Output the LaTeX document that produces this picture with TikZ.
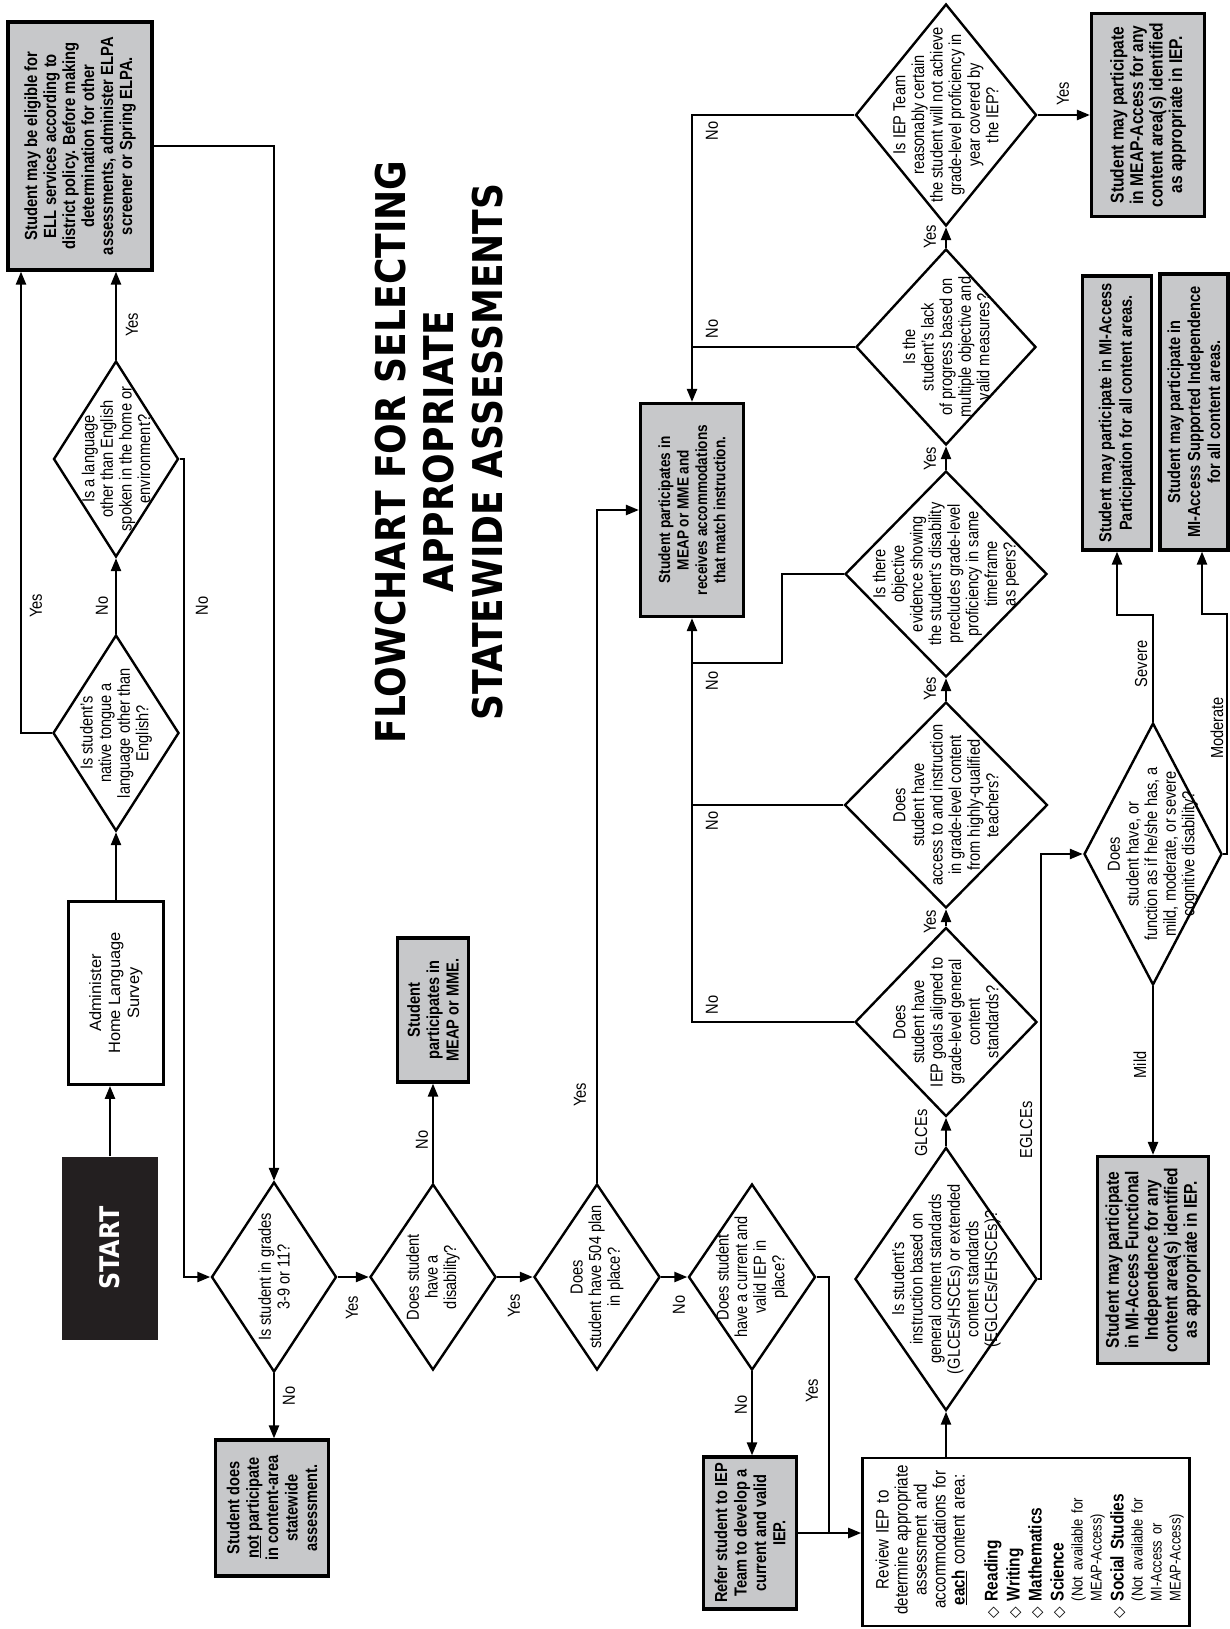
\documentclass[tikz,border=0pt]{standalone}
\usepackage{fontspec}
\setmainfont{Liberation Sans}[FakeStretch=0.84]
\newfontfamily\titlefont{DejaVu Sans}[FakeStretch=0.88]
\newfontfamily\plainfont{Liberation Sans}
\newfontfamily\symfont{DejaVu Sans}
\usetikzlibrary{arrows.meta,shapes.geometric}

\definecolor{boxgray}{RGB}{199,200,202}
\definecolor{startblack}{RGB}{35,31,32}
\newcommand{\qsize}{\fontsize{17.4pt}{18.6pt}\selectfont}
\newcommand{\bsize}{\fontsize{17.4pt}{19.4pt}\selectfont\bfseries}
\newcommand{\itm}[1]{{\symfont\fontsize{15pt}{15pt}\selectfont ◇} & {\fontsize{18.4pt}{19pt}\selectfont\bfseries #1}}

\begin{document}
\begin{tikzpicture}[x=1pt,y=1pt,yscale=-1,
  ln/.style={line width=2.4pt},
  arr/.style={line width=2.4pt,-{Triangle[length=13pt,width=10pt]}},
  dia/.style={draw,diamond,line width=2.4pt,inner sep=0pt},
  gbox/.style={draw,fill=boxgray,line width=3.2pt,inner sep=0pt},
  qtxt/.style={rotate=90,align=center,inner sep=0pt,font=\qsize},
  btxt/.style={rotate=90,align=center,inner sep=0pt,font=\bsize},
  lbl/.style={rotate=90,inner sep=0pt,font=\qsize}]
\fill[white] (0,0) rectangle (1230,1629);
\useasboundingbox (0,0) rectangle (1230,1629);

% Title
\node[rotate=90,align=center,inner sep=0pt,font=\titlefont\bfseries\fontsize{41pt}{48.5pt}\selectfont] (title) at (439,452) {FLOWCHART FOR SELECTING\\APPROPRIATE\\STATEWIDE ASSESSMENTS};

%Shape: Rectangle [ell]
\node[gbox,minimum width=144pt,minimum height=248pt] (ell) at (80,146) {};
%Shape: Diamond [q2]
\node[dia,minimum width=125pt,minimum height=196pt] (q2) at (116,459) {};
%Shape: Diamond [q1]
\node[dia,minimum width=126pt,minimum height=196pt] (q1) at (116,733) {};
%Shape: Rectangle [survey]
\node[draw,line width=2.8pt,minimum width=95pt,minimum height=183pt,inner sep=0pt] (survey) at (116,993) {};
%Shape: Rectangle [start]
\node[fill=startblack,minimum width=96pt,minimum height=183pt,inner sep=0pt] (start) at (110,1248) {};
%Shape: Diamond [q3]
\node[dia,minimum width=125pt,minimum height=190pt] (q3) at (274,1277) {};
%Shape: Rectangle [nopart]
\node[gbox,minimum width=113pt,minimum height=136pt] (nopart) at (272,1508) {};
%Shape: Diamond [q4]
\node[dia,minimum width=126pt,minimum height=186pt] (q4) at (433,1277) {};
%Shape: Rectangle [mme]
\node[gbox,minimum width=71pt,minimum height=144pt] (mme) at (433,1010) {};
%Shape: Diamond [q5]
\node[dia,minimum width=126pt,minimum height=186pt] (q5) at (597,1277) {};
%Shape: Diamond [q6]
\node[dia,minimum width=127pt,minimum height=186pt] (q6) at (752,1277) {};
%Shape: Rectangle [refer]
\node[gbox,minimum width=93pt,minimum height=152pt] (refer) at (750,1533) {};
%Shape: Rectangle [review]
\node[draw,line width=2.6pt,minimum width=327pt,minimum height=168pt,inner sep=0pt] (review) at (1026,1542) {};
%Shape: Diamond [q7]
\node[dia,minimum width=182pt,minimum height=263pt] (q7) at (946,1279) {};
%Shape: Diamond [q8]
\node[dia,minimum width=182pt,minimum height=189pt] (q8) at (946,1022) {};
%Shape: Diamond [q9]
\node[dia,minimum width=203pt,minimum height=206pt] (q9) at (946,805) {};
%Shape: Diamond [q10]
\node[dia,minimum width=202pt,minimum height=206pt] (q10) at (946,574) {};
%Shape: Diamond [q11]
\node[dia,minimum width=180pt,minimum height=196pt] (q11) at (946,347) {};
%Shape: Diamond [q12]
\node[dia,minimum width=181pt,minimum height=222pt] (q12) at (946,115) {};
%Shape: Rectangle [acc]
\node[gbox,minimum width=103pt,minimum height=213pt] (acc) at (692,510) {};
%Shape: Rectangle [meapacc]
\node[gbox,minimum width=113pt,minimum height=203pt] (meapacc) at (1148,115) {};
%Shape: Diamond [cog]
\node[dia,minimum width=138pt,minimum height=262pt] (cog) at (1153,854) {};
%Shape: Rectangle [fi]
\node[gbox,minimum width=111pt,minimum height=207pt] (fi) at (1153,1260) {};
%Shape: Rectangle [part]
\node[gbox,minimum width=69pt,minimum height=274pt] (part) at (1117,413) {};
%Shape: Rectangle [supp]
\node[gbox,minimum width=68pt,minimum height=276pt] (supp) at (1194,412) {};

% Bends
\coordinate (yesleft) at (21,733);
\coordinate (noright) at (184,459);
\coordinate (join) at (829,1533);
\coordinate (bend) at (782,663);
\coordinate (eglce) at (1041,1279);
\coordinate (severe) at (1153,615);
\coordinate (modA) at (1227,614);
\coordinate (modB) at (1202,614);

%Straight Lines
\draw[arr] (start.north) -- (start.north |- survey.south);
\draw[arr] (survey.north) -- (q1.south);
\draw[arr] (q1.north) -- (q2.south);
\draw[arr] (q2.north) -- (q2.north |- ell.south);
\draw[arr] (q1.west) -- (yesleft) -- (yesleft |- ell.south);
\draw[arr] (q2.east) -- (noright) |- (q3.west);
\draw[arr] (ell.east) -| (q3.north);
\draw[arr] (q3.south) -- (q3.south |- nopart.north);
\draw[arr] (q3.east) -- (q4.west);
\draw[arr] (q4.north) -- (mme.south);
\draw[arr] (q4.east) -- (q5.west);
\draw[arr] (q5.north) |- (acc.west);
\draw[arr] (q5.east) -- (q6.west);
\draw[arr] (q6.south) -- (q6.south |- refer.north);
\draw[arr] (q6.east) -| (join) -- (join -| review.west);
\draw[ln] (refer.east) -- (join);
\draw[arr] (q7.south |- review.north) -- (q7.south);
\draw[arr] (q7.north) -- (q8.south);
\draw[arr] (q8.north) -- (q9.south);
\draw[arr] (q9.north) -- (q10.south);
\draw[arr] (q10.north) -- (q11.south);
\draw[arr] (q11.north) -- (q12.south);
\draw[arr] (q12.east) -- (meapacc.west);
\draw[arr] (q12.west) -| (acc.north);
\draw[ln] (q11.west) -- (q11.west -| acc.north);
\draw[ln] (q10.west) -| (bend) -- (bend -| acc.south);
\draw[ln] (q9.west) -- (q9.west -| acc.south);
\draw[arr] (q8.west) -| (acc.south);
\draw[arr] (q7.east) -- (eglce) |- (cog.west);
\draw[arr] (cog.south) -- (cog.south |- fi.north);
\draw[arr] (cog.north) -- (severe) -| (part.south);
\draw[arr] (cog.east) -| (modA) -- (modB) -- (modB |- supp.south);

% Text Node
\node[font=\titlefont\bfseries\fontsize{27pt}{30pt}\selectfont,text=white,rotate=90,inner sep=0pt] (startt) at (start) {START};
% Text Node
\node[rotate=90,align=center,inner sep=0pt,font=\plainfont\fontsize{16.4pt}{19pt}\selectfont] (surveyt) at (survey) {Administer\\Home Language\\Survey};
% Text Node
\node[btxt,font=\fontsize{17.6pt}{19pt}\selectfont\bfseries] (ellt) at (ell) {Student may be eligible for\\ELL services according to\\district policy. Before making\\determination for other\\assessments, administer ELPA\\screener or Spring ELPA.};
% Text Node
\node[qtxt] (q1t) at (q1) {Is student's\\native tongue a\\language other than\\English?};
% Text Node
\node[qtxt] (q2t) at (q2) {Is a language\\other than English\\spoken in the home or\\environment?};
% Text Node
\node[qtxt] (q3t) at (q3) {Is student in grades\\3-9 or 11?};
% Text Node
\node[btxt] (nopartt) at (nopart) {Student does\\\underline{not} participate\\in content-area\\statewide\\assessment.};
% Text Node
\node[qtxt] (q4t) at (q4) {Does student\\have a\\disability?};
% Text Node
\node[btxt] (mmet) at (mme) {Student\\participates in\\MEAP or MME.};
% Text Node
\node[qtxt] (q5t) at (q5) {Does\\student have 504 plan\\in place?};
% Text Node
\node[qtxt] (q6t) at (q6) {Does student\\have a current and\\valid IEP in\\place?};
% Text Node
\node[btxt] (refert) at (refer) {Refer student to IEP\\Team to develop a\\current and valid\\IEP.};
% Text Node
\node[btxt,font=\fontsize{16.2pt}{18.4pt}\selectfont\bfseries] (acct) at (acc) {Student participates in\\MEAP or MME and\\receives accommodations\\that match instruction.};
% Text Node
\node[qtxt] (q7t) at (q7) {Is student's\\instruction based on\\general content standards\\(GLCEs/HSCEs) or extended\\content standards\\(EGLCEs/EHSCEs)?};
% Text Node
\node[qtxt] (q8t) at (q8) {Does\\student have\\IEP goals aligned to\\grade-level general\\content\\standards?};
% Text Node
\node[qtxt] (q9t) at (q9) {Does\\student have\\access to and instruction\\in grade-level content\\from highly-qualified\\teachers?};
% Text Node
\node[qtxt] (q10t) at (q10) {Is there\\objective\\evidence showing\\the student's disability\\precludes grade-level\\proficiency in same\\timeframe\\as peers?};
% Text Node
\node[qtxt] (q11t) at (q11) {Is the\\student's lack\\of progress based on\\multiple objective and\\valid measures?};
% Text Node
\node[qtxt] (q12t) at (q12) {Is IEP Team\\reasonably certain\\the student will not achieve\\grade-level proficiency in\\year covered by\\the IEP?};
% Text Node
\node[btxt,font=\fontsize{18.5pt}{19.5pt}\selectfont\bfseries] (meapacct) at (meapacc) {Student may participate\\in MEAP-Access for any\\content area(s) identified\\as appropriate in IEP.};
% Text Node
\node[qtxt] (cogt) at (cog) {Does\\student have, or\\function as if he/she has, a\\mild, moderate, or severe\\cognitive disability?};
% Text Node
\node[btxt,font=\fontsize{18.5pt}{19.5pt}\selectfont\bfseries] (fit) at (fi) {Student may participate\\in MI-Access Functional\\Independence for any\\content area(s) identified\\as appropriate in IEP.};
% Text Node
\node[btxt,font=\fontsize{17.4pt}{20.5pt}\selectfont\bfseries] (partt) at (part) {Student may participate in MI-Access\\Participation for all content areas.};
% Text Node
\node[btxt,font=\fontsize{17.4pt}{20pt}\selectfont\bfseries] (suppt) at (supp) {Student may participate in\\MI-Access Supported Independence\\for all content areas.};
% Text Node
\node[rotate=90,anchor=north west,inner sep=0pt,text width=158pt,align=left,font=\fontsize{18pt}{19pt}\selectfont] (reviewt) at (875,1619) {%
\makebox[\linewidth][c]{\begin{tabular}{@{}c@{}}Review IEP to\\determine appropriate\\assessment and\\accommodations for\\\underline{\textbf{each}} content area:\end{tabular}}\par
\vspace{13pt}%
{\fontsize{15.5pt}{19pt}\selectfont
\begin{tabular}{@{}l@{\hspace{6pt}}l@{}}
\itm{Reading}\\[3pt]
\itm{Writing}\\[3pt]
\itm{Mathematics}\\[3pt]
\itm{Science}\\
 & (Not available for\\
 & MEAP-Access)\\[3pt]
\itm{Social Studies}\\
 & (Not available for\\
 & MI-Access or\\
 & MEAP-Access)
\end{tabular}\par}};

% Text Node (branch labels)
\node[lbl] (y1) at (36,606) {Yes};
\node[lbl] (n1) at (102,606) {No};
\node[lbl] (n2) at (202,606) {No};
\node[lbl] (y2) at (132,325) {Yes};
\node[lbl] (y3) at (352,1308) {Yes};
\node[lbl] (n3) at (289,1396) {No};
\node[lbl] (n4) at (422,1140) {No};
\node[lbl] (y4) at (514,1306) {Yes};
\node[lbl] (n5) at (679,1305) {No};
\node[lbl] (y5) at (580,1095) {Yes};
\node[lbl] (n6) at (741,1405) {No};
\node[lbl] (y6) at (812,1391) {Yes};
\node[lbl] (n7) at (712,131) {No};
\node[lbl] (n8) at (712,329) {No};
\node[lbl] (n9) at (712,681) {No};
\node[lbl] (n10) at (712,821) {No};
\node[lbl] (n11) at (712,1005) {No};
\node[lbl] (y7) at (930,237) {Yes};
\node[lbl] (y8) at (930,459) {Yes};
\node[lbl] (y9) at (930,689) {Yes};
\node[lbl] (y10) at (930,922) {Yes};
\node[lbl] (y11) at (1063,94) {Yes};
\node[lbl] (glce) at (921,1133) {GLCEs};
\node[lbl] (eglcet) at (1026,1130) {EGLCEs};
\node[lbl] (sev) at (1141,664) {Severe};
\node[lbl] (mild) at (1140,1065) {Mild};
\node[lbl] (mod) at (1217,728) {Moderate};

\end{tikzpicture}
\end{document}
